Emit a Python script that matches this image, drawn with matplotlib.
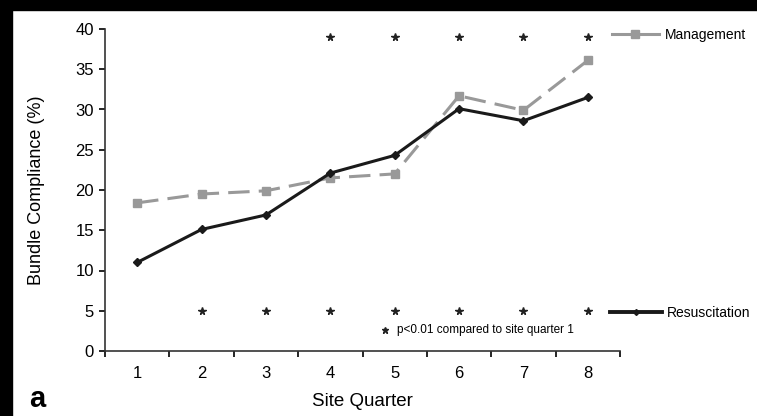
import matplotlib
matplotlib.use('Agg')
from matplotlib import pyplot as plt
from matplotlib.lines import Line2D
from matplotlib.patches import Rectangle

plt.rcParams['font.family'] = ['Liberation Sans', 'DejaVu Sans']

# data
quarters = [1, 2, 3, 4, 5, 6, 7, 8]
resuscitation = [11.0, 15.1, 16.9, 22.1, 24.3, 30.1, 28.6, 31.5]
management = [18.4, 19.5, 19.9, 21.5, 22.0, 31.7, 29.9, 36.1]

# significance stars (p<0.01 vs quarter 1)
mgmt_sig = [4, 5, 6, 7, 8]
resus_sig = [2, 3, 4, 5, 6, 7, 8]
mgmt_star_y = 39
resus_star_y = 5

fig = plt.figure(figsize=(7.57, 4.16), dpi=100)
# black scan border on the top and left
fig.patches.append(Rectangle((0, 1 - 10 / 416), 1, 10 / 416, transform=fig.transFigure, color='black'))
fig.patches.append(Rectangle((0, 0), 12 / 757, 1, transform=fig.transFigure, color='black'))

ax = fig.add_axes([105 / 757, 65 / 416, 515 / 757, 322 / 416])

ax.plot(quarters, management, color='#999999', lw=2.2, dashes=(7, 3),
        marker='s', ms=6, mfc='#999999', mec='#999999', zorder=2)
ax.plot(quarters, resuscitation, color='#1a1a1a', lw=2.2,
        marker='D', ms=4, mfc='#1a1a1a', mec='#1a1a1a', zorder=3)

ax.plot(mgmt_sig, [mgmt_star_y] * len(mgmt_sig), ls='none', marker='*', ms=5.5, color='#222222')
ax.plot(resus_sig, [resus_star_y] * len(resus_sig), ls='none', marker='*', ms=5.5, color='#222222')

ax.plot([4.85], [2.6], ls='none', marker='*', ms=5, color='#222222')
ax.text(5.03, 2.6, 'p<0.01 compared to site quarter 1', fontsize=8.5, va='center', ha='left')

ax.set_xlim(0.5, 8.5)
ax.set_ylim(0, 40)
ax.set_xticks(quarters)
ax.set_xticks([q + 0.5 for q in [0] + quarters], minor=True)
ax.set_yticks(range(0, 41, 5))
ax.tick_params(axis='x', which='major', length=0, labelsize=12, pad=11)
ax.tick_params(axis='x', which='minor', length=4, width=1.2, direction='out')
ax.tick_params(axis='y', length=4, width=1.2, labelsize=12, direction='out', pad=4)

for s in ['top', 'right']:
    ax.spines[s].set_visible(False)
for s in ['left', 'bottom']:
    ax.spines[s].set_linewidth(1.2)
    ax.spines[s].set_color('#333333')

ax.set_ylabel('Bundle Compliance (%)', fontsize=13)
ax.yaxis.set_label_coords(-0.1165, 0.5)
ax.set_xlabel('Site Quarter', fontsize=13.5)
ax.xaxis.set_label_coords(0.5, -0.13)
fig.text(37 / 757, 1 - 399 / 416, 'a', fontsize=21, fontweight='bold', ha='center', va='center')

h_mgmt = Line2D([], [], color='#999999', lw=2.2, marker='s', ms=6)
h_resus = Line2D([], [], color='#1a1a1a', lw=2.8, marker='D', ms=3)
leg1 = ax.legend(handles=[h_mgmt], labels=['Management'], loc='center left',
                 bbox_to_anchor=(0.984, 0.981), frameon=False, fontsize=10,
                 handlelength=3.4, handletextpad=0.43, borderpad=0, borderaxespad=0)
ax.add_artist(leg1)
ax.legend(handles=[h_resus], labels=['Resuscitation'], loc='center left',
          bbox_to_anchor=(0.980, 0.118), frameon=False, fontsize=10,
          handlelength=3.75, handletextpad=0.36, borderpad=0, borderaxespad=0)

fig.savefig('out.png', dpi=100, facecolor='white')
